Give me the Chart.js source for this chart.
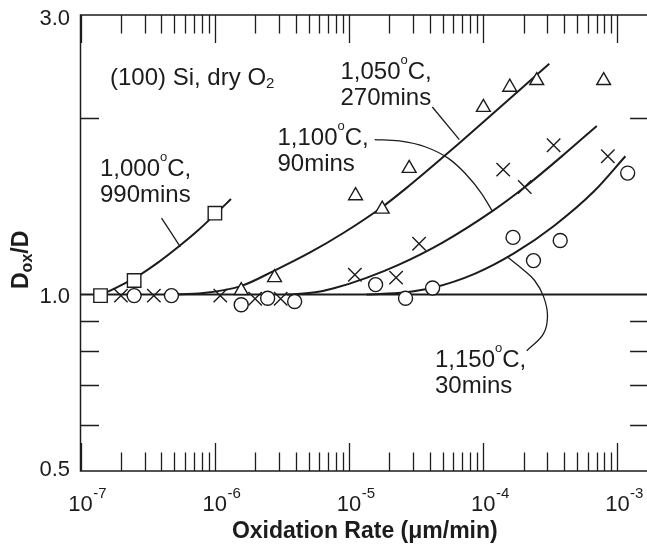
<!DOCTYPE html>
<html>
<head>
<meta charset="utf-8">
<script src="https://cdn.jsdelivr.net/npm/chart.js@4"></script>
<style>
  html, body { margin: 0; padding: 0; background: #fff; overflow: hidden; }
  #wrap { width: 647px; height: 545px; overflow: hidden; }
</style>
</head>
<body>
<div id="wrap"><canvas id="chart" width="660" height="545"></canvas></div>
<script>
// oxidation rate (um/min) vs Dox/D

// measured points
const rateSquare = [1.41e-7, 2.51e-7, 1.003e-6];
const ratioSquare = [0.996, 1.057, 1.377];
const rateTriangle = [1.575e-6, 2.79e-6, 1.12e-5, 1.77e-5, 2.81e-5, 1.0035e-4, 1.578e-4, 2.506e-4, 7.9e-4];
const ratioTriangle = [1.016, 1.069, 1.475, 1.399, 1.642, 2.087, 2.259, 2.319, 2.319];
const rateCross = [2.0e-7, 3.52e-7, 1.10e-6, 2.0e-6, 3.1e-6, 1.107e-5, 2.245e-5, 3.33e-5, 1.41e-4, 2.04e-4, 3.35e-4, 8.49e-4];
const ratioCross = [0.996, 0.996, 0.996, 0.984, 0.984, 1.081, 1.069, 1.221, 1.634, 1.526, 1.798, 1.722];
const rateCircle = [2.51e-7, 4.76e-7, 1.575e-6, 2.48e-6, 3.94e-6, 1.58e-5, 2.64e-5, 4.2e-5, 1.669e-4, 2.37e-4, 3.75e-4, 1.193e-3];
const ratioCircle = [0.996, 0.996, 0.961, 0.986, 0.973, 1.040, 0.986, 1.026, 1.252, 1.143, 1.237, 1.612];

// fitted curves (traced)
const curveRate1000 = [1.41e-7, 1.589e-7, 2.12e-7, 2.83e-7, 3.84e-7, 5.45e-7, 7.56e-7, 1.0085e-6, 1.322e-6];
const curveRatio1000 = [1.0, 1.011, 1.044, 1.084, 1.137, 1.210, 1.289, 1.371, 1.456];
const curveRate1050 = [4.545e-7, 8.23e-7, 1.567e-6, 2.79e-6, 5.135e-6, 9.14e-6, 1.77e-5, 2.66e-5, 4.98e-5, 6.76e-5, 1.033e-4, 1.807e-4, 3.11e-4];
const curveRatio1050 = [1.0, 1.006, 1.034, 1.099, 1.180, 1.275, 1.411, 1.518, 1.713, 1.820, 1.981, 2.218, 2.477];
const curveRate1100 = [3.476e-6, 5.78e-6, 7.72e-6, 1.35e-5, 2.36e-5, 4.98e-5, 1.163e-4, 2.035e-4, 3.81e-4, 7.02e-4];
const curveRatio1100 = [1.0, 1.010, 1.025, 1.068, 1.125, 1.227, 1.387, 1.525, 1.718, 1.940];
const curveRate1150 = [1.35e-5, 2.66e-5, 4.205e-5, 8.71e-5, 1.717e-4, 3.385e-4, 6.67e-4, 1.147e-3];
const curveRatio1150 = [1.0, 1.0095, 1.027, 1.086, 1.178, 1.311, 1.499, 1.722];
const baseRate = [1e-7, 1.723e-3];
const baseRatio = [1.0, 1.0];

// leader lines from the labels to the curves
const leadRate1000 = [4.016e-7, 5.54e-7];
const leadRatio1000 = [1.351, 1.206];
const leadRate1050 = [4.18e-5, 6.645e-5];
const leadRatio1050 = [2.090, 1.838];
const leadRate1100 = [1.554e-5, 2.375e-5, 3.735e-5, 5.54e-5, 7.36e-5, 9.77e-5, 1.169e-4];
const leadRatio1100 = [1.838, 1.829, 1.786, 1.706, 1.609, 1.486, 1.388];
const leadRate1150 = [1.505e-4, 1.94e-4, 2.418e-4, 2.818e-4, 3.015e-4, 2.818e-4, 2.112e-4];
const leadRatio1150 = [1.161, 1.108, 1.057, 0.992, 0.921, 0.858, 0.802];

// axes
const xMin = 1e-7;
const xMax = 1.723e-3;
const yMin = 0.5;
const yMax = 3.0;
const xDecades = [1e-7, 1e-6, 1e-5, 1e-4, 1e-3];
const xExponents = ['-7', '-6', '-5', '-4', '-3'];
const yLabels = [3.0, 1.0, 0.5];
const yMinorTicks = [2.0, 0.9, 0.8, 0.7, 0.6];

const INK = '#1c1c1c';
const FONT = '"Liberation Sans", Arial, Helvetica, sans-serif';

const pts = (xs, ys) => xs.map((x, i) => ({ x, y: ys[i] }));

// smooth line through traced points; monotone where x only grows
const curve = (xs, ys, width, monotone = true) => ({
  data: pts(xs, ys),
  showLine: true,
  borderColor: INK,
  borderWidth: width,
  pointRadius: 0,
  cubicInterpolationMode: monotone ? 'monotone' : 'default',
  tension: 0.4,
  fill: false,
  order: 3
});

const marker = (xs, ys, style, radius) => ({
  data: pts(xs, ys),
  showLine: false,
  pointStyle: style,
  pointRadius: radius,
  pointBorderWidth: 1.4,
  pointBorderColor: INK,
  pointBackgroundColor: '#fff',
  order: 1
});

// draws a run of text pieces: [text, size, bold, dy]
const runText = (ctx, pieces, x, y) => {
  let cx = x;
  pieces.forEach(([t, size, bold, dy]) => {
    ctx.font = `${bold ? 'bold ' : ''}${size}px ${FONT}`;
    ctx.fillText(t, cx, y + (dy || 0));
    cx += ctx.measureText(t).width;
  });
};

const tempLabel = (deg, time) => [
  [[deg, 24], ['o', 13, false, -15], ['C,', 24]],
  [[time, 24]]
];

const labels = [
  { lines: tempLabel('1,000', '990mins'), x: 100, y: 176 },
  { lines: tempLabel('1,050', '270mins'), x: 340.5, y: 78.5 },
  { lines: tempLabel('1,100', '90mins'), x: 277.5, y: 145 },
  { lines: tempLabel('1,150', '30mins'), x: 435, y: 366.5 }
];

const frame = {
  id: 'frame',
  afterDraw(chart) {
    const { ctx, chartArea: a, scales: { x, y } } = chart;
    ctx.save();
    ctx.strokeStyle = INK;
    ctx.fillStyle = INK;
    ctx.lineWidth = 1.5;
    ctx.beginPath();
    ctx.moveTo(a.left, a.top);
    ctx.lineTo(a.right, a.top);
    ctx.lineTo(a.right, a.bottom);
    ctx.lineTo(a.left, a.bottom);
    ctx.closePath();
    ctx.stroke();

    // x ticks top and bottom, pointing inward
    ctx.lineWidth = 1.3;
    ctx.beginPath();
    xDecades.forEach(d => {
      for (let m = 1; m <= 9; m++) {
        const v = d * m;
        if (v > xMax) break;
        const px = Math.round(x.getPixelForValue(v)) + 0.5;
        const len = m === 1 ? 28 : 18.5;
        ctx.moveTo(px, a.bottom);
        ctx.lineTo(px, a.bottom - len);
        ctx.moveTo(px, a.top);
        ctx.lineTo(px, a.top + len);
      }
    });
    yMinorTicks.forEach(v => {
      const py = Math.round(y.getPixelForValue(v)) + 0.5;
      ctx.moveTo(a.left, py);
      ctx.lineTo(a.left + 18.5, py);
      ctx.moveTo(a.right, py);
      ctx.lineTo(a.right - 19, py);
    });
    ctx.stroke();

    // x tick labels 10^n
    ctx.textBaseline = 'alphabetic';
    ctx.textAlign = 'left';
    xDecades.forEach((d, i) => {
      const px = x.getPixelForValue(d);
      ctx.font = `22px ${FONT}`;
      const w = ctx.measureText('10').width;
      ctx.fillText('10', px - w / 2, 510.5);
      ctx.font = `15px ${FONT}`;
      ctx.fillText(xExponents[i], px + w / 2 + 0.5, 498);
    });

    // y tick labels
    ctx.textAlign = 'right';
    ctx.font = `22px ${FONT}`;
    yLabels.forEach(v => {
      const py = y.getPixelForValue(v);
      const base = Math.min(Math.max(py + 8, a.top + 10), a.bottom + 4.5);
      ctx.fillText(v.toFixed(1), 70, base);
    });

    // axis titles
    ctx.textAlign = 'center';
    ctx.font = `bold 23px ${FONT}`;
    ctx.fillText('Oxidation Rate (\u03bcm/min)', (a.left + a.right) / 2, 538);

    ctx.save();
    ctx.translate(27.5, 289);
    ctx.rotate(-Math.PI / 2);
    ctx.textAlign = 'left';
    runText(ctx, [['D', 23, true], ['ox', 16, true, 4], ['/D', 23, true]], 0, 0);
    ctx.restore();

    // annotations
    ctx.textAlign = 'left';
    runText(ctx, [['(100) Si, dry O', 24], ['2', 15, false, 2.5]], 110, 85);
    labels.forEach(l => {
      l.lines.forEach((line, i) => runText(ctx, line, l.x, l.y + i * 26));
    });
    ctx.restore();
  }
};

new Chart(document.getElementById('chart'), {
  type: 'scatter',
  data: {
    datasets: [
      curve(baseRate, baseRatio, 2),
      curve(curveRate1000, curveRatio1000, 2),
      curve(curveRate1050, curveRatio1050, 2),
      curve(curveRate1100, curveRatio1100, 2),
      curve(curveRate1150, curveRatio1150, 2),
      curve(leadRate1000, leadRatio1000, 1.3),
      curve(leadRate1050, leadRatio1050, 1.3),
      curve(leadRate1100, leadRatio1100, 1.3),
      curve(leadRate1150, leadRatio1150, 1.3, false),
      marker(rateSquare, ratioSquare, 'rect', 9.5),
      marker(rateTriangle, ratioTriangle, 'triangle', 8),
      marker(rateCross, ratioCross, 'crossRot', 9.5),
      marker(rateCircle, ratioCircle, 'circle', 7)
    ]
  },
  options: {
    responsive: false,
    animation: false,
    events: [],
    layout: { padding: { left: 80.5, right: 4, top: 15, bottom: 74 } },
    scales: {
      x: { type: 'logarithmic', min: xMin, max: xMax, display: false },
      y: { type: 'logarithmic', min: yMin, max: yMax, display: false }
    },
    plugins: {
      legend: { display: false },
      tooltip: { enabled: false }
    }
  },
  plugins: [frame]
});
</script>
</body>
</html>
